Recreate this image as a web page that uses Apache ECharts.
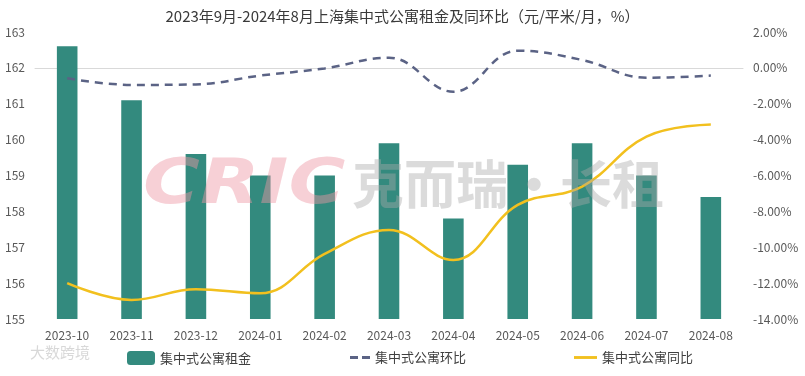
<!DOCTYPE html>
<html>
<head>
<meta charset="utf-8">
<script src="https://cdn.jsdelivr.net/npm/echarts@6/dist/echarts.min.js"></script>
<style>
  html, body { margin: 0; padding: 0; background: #fff; }
  #chart { width: 805px; height: 376px; }
</style>
</head>
<body>
<div id="chart"></div>
<script>
// 月份
var months = ['2023-10', '2023-11', '2023-12', '2024-01', '2024-02', '2024-03',
              '2024-04', '2024-05', '2024-06', '2024-07', '2024-08'];
// 集中式公寓租金 (元/平米/月)
var rent = [162.6, 161.1, 159.6, 159.0, 159.0, 159.9, 157.8, 159.3, 159.9, 159.0, 158.4];
// 环比 (%)
var mom = [-0.58, -0.95, -0.92, -0.43, -0.03, 0.57, -1.33, 0.96, 0.44, -0.55, -0.43];
// 同比 (%)
var yoy = [-12.0, -12.94, -12.34, -12.57, -10.37, -9.04, -10.71, -7.64, -6.62, -3.83, -3.15];

var font = '"Noto Sans CJK SC", "Noto Sans", sans-serif';
var chart = echarts.init(document.getElementById('chart'));
chart.setOption({
  animation: false,
  textStyle: { fontFamily: font },
  title: {
    text: '2023年9月-2024年8月上海集中式公寓租金及同环比（元/平米/月，%）',
    left: 'center',
    top: 4,
    textStyle: { fontSize: 15, fontWeight: 'normal', color: '#3a3a3a', fontFamily: font }
  },
  grid: { left: 35, right: 62, top: 32, bottom: 57 },
  legend: [
    { data: ['集中式公寓租金'], left: 122, top: 346, itemWidth: 28, itemHeight: 14,
      itemGap: 5, textStyle: { fontSize: 13, color: '#404040' } },
    { data: [{ name: '集中式公寓环比', icon: 'path://M0,0h8v3h-8z M12,0h8v3h-8z' }],
      left: 345, top: 346, itemWidth: 20, itemHeight: 3,
      textStyle: { fontSize: 13, color: '#404040' } },
    { data: [{ name: '集中式公寓同比', icon: 'path://M0,0h24v3h-24z' }],
      left: 569, top: 346, itemWidth: 23, itemHeight: 3,
      textStyle: { fontSize: 13, color: '#404040' } }
  ],
  xAxis: {
    type: 'category',
    data: months,
    axisLine: { lineStyle: { color: '#d9d9d9' } },
    axisTick: { show: false },
    axisLabel: { color: '#595959', fontSize: 12, margin: 10 }
  },
  yAxis: [
    {
      type: 'value', min: 155, max: 163, interval: 1,
      splitLine: { show: false },
      axisLabel: { color: '#595959', fontSize: 12, margin: 10 },
      position: 'left'
    },
    {
      type: 'value', min: -14, max: 2, interval: 2,
      splitLine: { show: false },
      axisLabel: { color: '#595959', fontSize: 12, margin: 10,
        formatter: function (v) { return v.toFixed(2) + '%'; } },
      position: 'right'
    }
  ],
  series: [
    {
      name: '集中式公寓租金', type: 'bar', data: rent, barWidth: '32%',
      itemStyle: { color: '#338a7e' }
    },
    {
      name: '集中式公寓环比', type: 'line', yAxisIndex: 1, data: mom, smooth: 0.4,
      symbol: 'none',
      lineStyle: { color: '#5b6385', width: 2.5, type: [8, 6] },
      itemStyle: { color: '#5b6385' }
    },
    {
      name: '集中式公寓同比', type: 'line', yAxisIndex: 1, data: yoy, smooth: 0.4,
      symbol: 'none',
      lineStyle: { color: '#f2c01e', width: 2.5 },
      itemStyle: { color: '#f2c01e' }
    }
  ],
  graphic: [
    { type: 'text', left: 143, top: 156, z: 100, scaleX: 1.25,
      style: { text: 'CRIC', fontSize: 62, fontWeight: 'bold', fontStyle: 'italic',
        fontFamily: '"DejaVu Sans", sans-serif', fill: 'rgba(238,150,165,0.45)' } },
    { type: 'text', left: 352, top: 158, z: 100,
      style: { text: '克而瑞·长租', fontSize: 52, fontWeight: 'bold', fontFamily: font,
        fill: 'rgba(170,170,170,0.42)' } },
    { type: 'text', left: 30, top: 345, z: 100,
      style: { text: '大数跨境', fontSize: 15, fontFamily: font,
        fill: 'rgba(190,190,190,0.6)' } }
  ]
});
</script>
</body>
</html>
